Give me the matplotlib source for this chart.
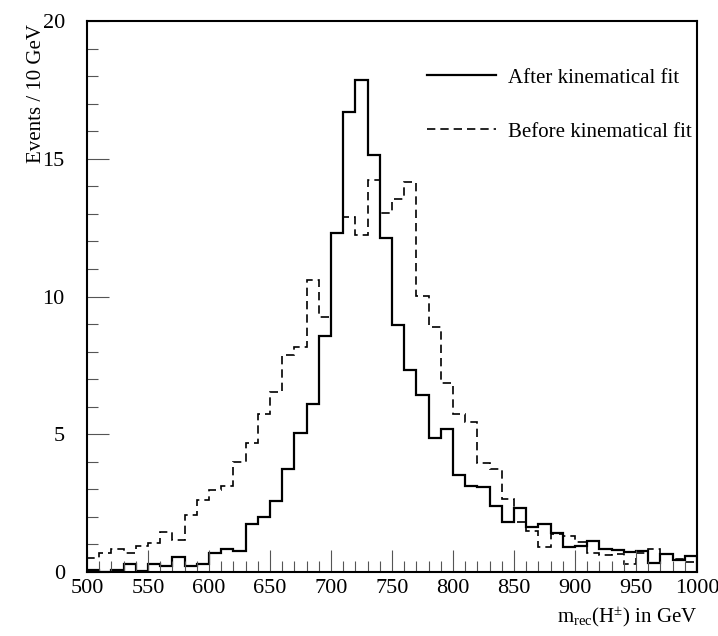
import numpy as np
import matplotlib
matplotlib.use("Agg")
import matplotlib.pyplot as plt

plt.rcParams['font.family'] = ['Liberation Serif', 'DejaVu Serif']
plt.rcParams['mathtext.fontset'] = 'custom'
plt.rcParams['mathtext.rm'] = 'Liberation Serif'
plt.rcParams['mathtext.it'] = 'Liberation Serif:italic'

# 10 GeV bins from 500 to 1000 GeV
bin_edges = np.arange(500, 1001, 10)

after_fit = [0.08, 0.0, 0.08, 0.28, 0.05, 0.28, 0.23, 0.53, 0.23, 0.28,
             0.68, 0.84, 0.78, 1.73, 1.99, 2.59, 3.73, 5.04, 6.10, 8.56,
             12.29, 16.68, 17.85, 15.14, 12.13, 8.98, 7.32, 6.44, 4.86, 5.20,
             3.53, 3.13, 3.08, 2.41, 1.83, 2.34, 1.62, 1.73, 1.42, 0.91,
             0.96, 1.14, 0.83, 0.79, 0.74, 0.75, 0.33, 0.65, 0.43, 0.57]

before_fit = [0.50, 0.68, 0.84, 0.68, 0.96, 1.07, 1.47, 1.18, 2.08, 2.61,
              2.98, 3.13, 4.01, 4.70, 5.72, 6.55, 7.89, 8.17, 10.59, 9.25,
              12.30, 12.88, 12.25, 14.23, 13.02, 13.55, 14.17, 10.01, 8.88, 6.86,
              5.73, 5.43, 3.95, 3.75, 2.65, 1.83, 1.48, 0.92, 1.38, 1.31,
              1.10, 0.70, 0.63, 0.64, 0.28, 0.70, 0.84, 0.67, 0.48, 0.36]

fig = plt.figure(figsize=(7.18, 6.36), dpi=100)
ax = fig.add_axes([0.1212, 0.1006, 0.8496, 0.8664])

ax.stairs(after_fit, bin_edges, color='black', linewidth=1.6,
          label='After kinematical fit')
ax.stairs(before_fit, bin_edges, color='black', linewidth=1.2,
          linestyle=(0, (5, 3)), label='Before kinematical fit')

ax.set_xlim(500, 1000)
ax.set_ylim(0, 20)
ax.set_xticks(np.arange(500, 1001, 50))
ax.set_xticks(np.arange(500, 1001, 10), minor=True)
ax.set_yticks(np.arange(0, 21, 5))
ax.set_yticks(np.arange(0, 21, 1), minor=True)
ax.tick_params(which='both', direction='in', top=False, right=False,
               labelsize=16, width=0.8, color='#555555')
ax.tick_params(which='major', length=16)
ax.tick_params(which='minor', length=8)
ax.tick_params(axis='y', which='major', pad=16)
ax.tick_params(axis='x', which='major', pad=5)
for sp in ax.spines.values():
    sp.set_linewidth(1.5)

ax.set_ylabel('Events / 10 GeV', fontsize=15, loc='top')
ax.yaxis.set_label_coords(-0.067, 0.995)
ax.set_xlabel(r'm$_{\rm rec}$(H$^{\pm}$) in GeV', fontsize=15, loc='right',
              labelpad=5)

ax.legend(loc='upper right', bbox_to_anchor=(1.012, 0.937), frameon=False,
          fontsize=15, handlelength=3.3, handletextpad=0.6, labelspacing=1.65,
          borderaxespad=0.2)

fig.savefig('out.png', dpi=100)
